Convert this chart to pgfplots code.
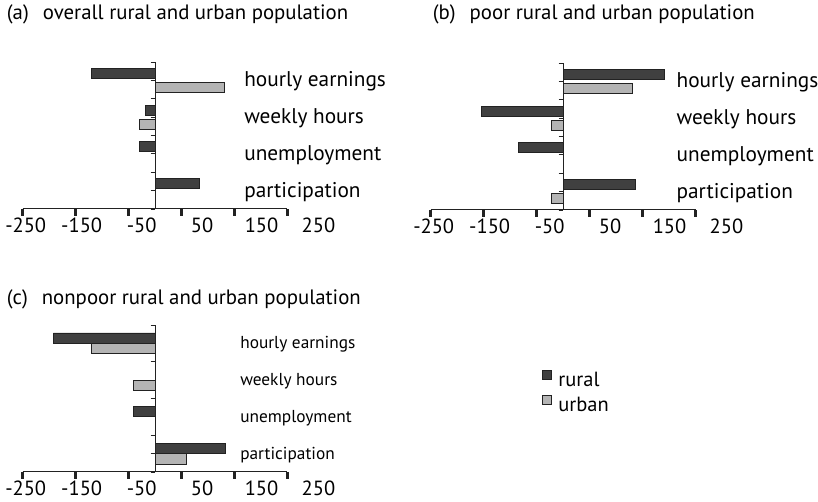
\documentclass[border=0pt]{standalone}
\usepackage{fontspec}
\setmainfont{PT Sans}
\usepackage{pgfplots}
\pgfplotsset{compat=1.18}
\definecolor{dark}{HTML}{404040}
\definecolor{light}{HTML}{B4B4B4}
\definecolor{edge}{HTML}{222222}
\newcommand\sh[2]{\hspace*{#1}\hspace*{#1}#2}
\newcommand\titf{\fontsize{20.8}{25}\selectfont}
\newcommand\bigf{\fontsize{21.3}{25}\selectfont}
\newcommand\tickf{\fontsize{20.5}{24}\selectfont}
\newcommand\smallf{\fontsize{17.3}{20}\selectfont}
\tikzset{cat/.style={anchor=base west, inner sep=0pt, yshift=-6.5pt}}
\pgfplotsset{
  panel/.style={
    scale only axis, width=264.8pt, height=147pt,
    xmin=-250, xmax=250, ymin=0.5, ymax=4.5,
    clip=false,
    axis x line=bottom, axis y line=middle,
    x axis line style={-, line width=1pt, draw=edge},
    y axis line style={-, line width=1pt, draw=edge},
    xtick={-250,-150,-50,50,150,250},
    xticklabels={\sh{3pt}{-250},\sh{6pt}{-150},\sh{13pt}{-50},\sh{20.5pt}{50},\sh{27pt}{150},\sh{31pt}{250}},
    tick align=outside,
    major tick length=7pt,
    major x tick style={line width=2.5pt, draw=edge},
    ytick=\empty,
    extra y ticks={0.5,1,...,4.5},
    extra y tick labels={},
    extra y tick style={major tick length=4.5pt, tick style={line width=0.8pt, draw=edge}},
    xticklabel style={font=\tickf, anchor=base, yshift=-17pt, inner sep=0pt},
    xbar, bar width=10pt,
    legend image code/.code={\draw[#1, line width=0.9pt] (0pt,0pt) rectangle (9.5pt,9.5pt);},
  },
  rural/.style={fill=dark, draw=edge, line width=0.9pt, bar shift=7pt},
  urban/.style={fill=light, draw=edge, line width=0.9pt, bar shift=-7pt},
}
\begin{document}
\begin{tikzpicture}
\useasboundingbox (0,0) rectangle (818pt,502pt);
\node[anchor=base west, inner sep=0pt, font=\titf] at (6.7pt,482.5pt) {(a)\hspace{8.5pt} overall rural and urban population};
\node[anchor=base west, inner sep=0pt, font=\titf] at (432.7pt,482.5pt) {(b)\hspace{8.5pt} poor rural and urban population};
\node[anchor=base west, inner sep=0pt, font=\titf] at (6.7pt,197.7pt) {(c)\hspace{8.5pt} nonpoor rural and urban population};

% (a)
\begin{axis}[panel, at={(22.7pt,293pt)}, anchor=south west]
\addplot[rural] coordinates {(-120,4) (-19,3) (-30,2) (84,1)};
\addplot[urban] coordinates {(131,4) (-30,3)};
\node[cat, font=\bigf] at (axis cs:168,4) {hourly earnings};
\node[cat, font=\bigf] at (axis cs:168,3) {weekly hours};
\node[cat, font=\bigf] at (axis cs:168,2) {unemployment};
\node[cat, font=\bigf] at (axis cs:168,1) {participation};
\end{axis}

% (b)
\begin{axis}[panel, at={(430.7pt,292pt)}, anchor=south west]
\addplot[rural] coordinates {(191,4) (-154,3) (-85,2) (137,1)};
\addplot[urban] coordinates {(131,4) (-22,3) (-22,1)};
\node[cat, font=\bigf] at (axis cs:214,4) {hourly earnings};
\node[cat, font=\bigf] at (axis cs:214,3) {weekly hours};
\node[cat, font=\bigf] at (axis cs:214,2) {unemployment};
\node[cat, font=\bigf] at (axis cs:214,1) {participation};
\end{axis}

% (c)
\begin{axis}[panel, at={(22.7pt,30pt)}, anchor=south west,
  legend style={at={(1.9611,0.6939)}, anchor=north west, draw=none, fill=none,
    inner sep=0pt, outer sep=0pt, row sep=7pt, column sep=6pt, font=\tickf,
    nodes={inner sep=0pt}},
  legend cell align=left]
\addplot[rural, bar shift=5.2pt, bar width=10.4pt] coordinates {(-192,4) (-41,2) (132,1)};
\addlegendentry{rural}
\addplot[urban, bar shift=-5.2pt, bar width=10.4pt] coordinates {(-121,4) (-41,3) (60,1)};
\addlegendentry{urban}
\node[cat, font=\smallf, yshift=1pt] at (axis cs:160.5,4) {hourly earnings};
\node[cat, font=\smallf, yshift=1pt] at (axis cs:160.5,3) {weekly hours};
\node[cat, font=\smallf, yshift=1pt] at (axis cs:160.5,2) {unemployment};
\node[cat, font=\smallf, yshift=1pt] at (axis cs:160.5,1) {participation};
\end{axis}
\end{tikzpicture}
\end{document}
